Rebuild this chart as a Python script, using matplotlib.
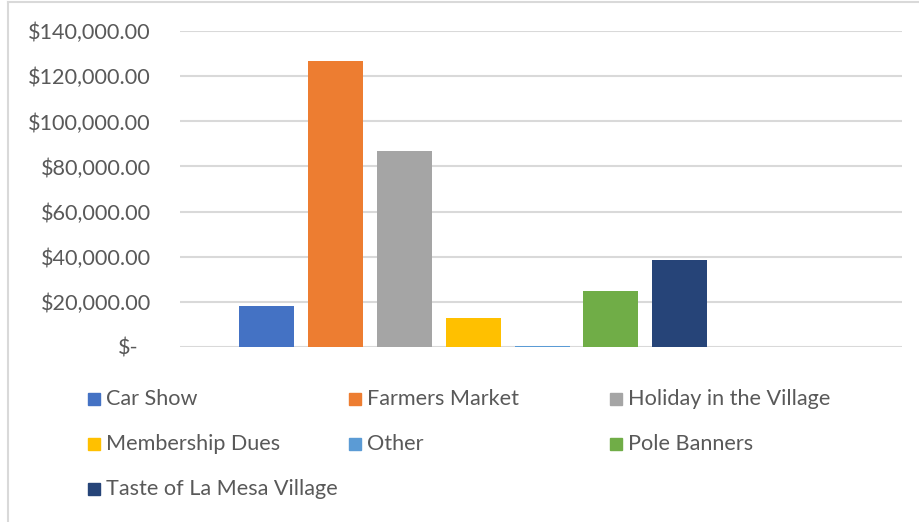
import matplotlib
matplotlib.use("Agg")
import matplotlib.pyplot as plt
from matplotlib.patches import Rectangle
from matplotlib.lines import Line2D
from matplotlib.transforms import ScaledTranslation

categories = ["Car Show", "Farmers Market", "Holiday in the Village",
              "Membership Dues", "Other", "Pole Banners", "Taste of La Mesa Village"]
values = [18000, 126800, 86900, 12700, 400, 24700, 38500]
colors = ["#4472c4", "#ed7d31", "#a5a5a5", "#ffc000", "#5b9bd5", "#70ad47", "#264478"]
yticks = [0, 20000, 40000, 60000, 80000, 100000, 120000, 140000]
ytick_labels = ["$-", "$20,000.00", "$40,000.00", "$60,000.00", "$80,000.00",
                "$100,000.00", "$120,000.00", "$140,000.00"]

plt.rcParams['font.family'] = ['Lato', 'DejaVu Sans']
W, H = 919, 522
FS = 15.6
fig = plt.figure(figsize=(W / 100, H / 100), dpi=100)
ax = fig.add_axes([180 / W, (H - 346.7) / H, (902 - 180) / W, (346.7 - 31.3) / H])

for i, (c, v, col) in enumerate(zip(categories, values, colors)):
    ax.bar(i, v, width=0.8, color=col, zorder=3, label=c)

ax.set_xlim(-1.26, 9.23)
ax.set_ylim(0, 140000)
ax.set_yticks(yticks)
ax.set_yticklabels(ytick_labels, fontsize=FS, color="#595959")
ax.tick_params(axis='y', length=0, pad=21)
lbl0 = ax.get_yticklabels()[0]
lbl0.set_transform(lbl0.get_transform() + ScaledTranslation(-12 / 100, 0, fig.dpi_scale_trans))
ax.set_xticks([])
ax.grid(axis='y', color="#d9d9d9", linewidth=1.5, zorder=0)
for s in ax.spines.values():
    s.set_visible(False)

# legend drawn manually in three equally spaced columns
col_x = [88, 349, 610]
row_y = [399, 444, 489]
for i, (c, col) in enumerate(zip(categories, colors)):
    r, k = divmod(i, 3)
    x, y = col_x[k], row_y[r]
    fig.patches.append(Rectangle((x / W, (H - y - 6) / H), 12 / W, 12 / H,
                                 transform=fig.transFigure, color=col))
    fig.text((x + 18) / W, (H - y) / H, c, fontsize=FS, color="#595959",
             va='center', ha='left')

# chart border (left and top visible)
fig.add_artist(Line2D([7.5 / W, 7.5 / W], [0, (H - 2) / H], transform=fig.transFigure,
                      color="#d9d9d9", linewidth=1.5))
fig.add_artist(Line2D([7.5 / W, 1], [(H - 2) / H, (H - 2) / H], transform=fig.transFigure,
                      color="#d9d9d9", linewidth=1.5))

fig.savefig("out.png", dpi=100, facecolor="white")
